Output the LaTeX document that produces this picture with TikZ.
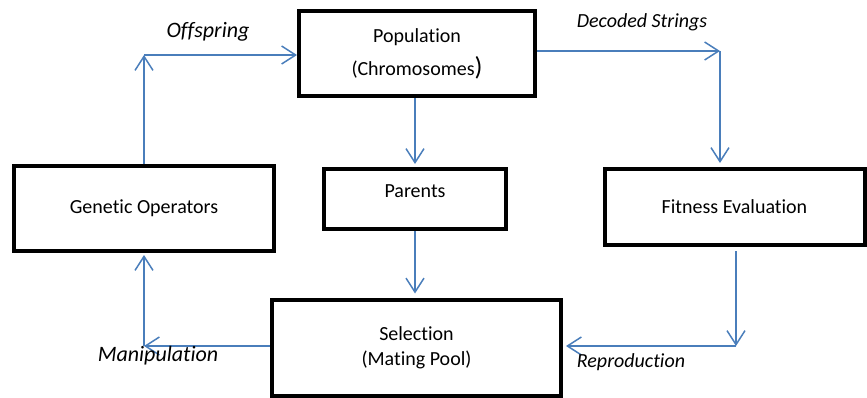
\documentclass[tikz,border=0pt]{standalone}
\usepackage{fontspec}
\setmainfont{Carlito}[Ligatures=NoCommon]
\usepackage{tikz}
\usetikzlibrary{arrows,arrows.meta,calc,positioning}
\definecolor{linkblue}{RGB}{74,126,187}
\tikzset{
        block/.style = {draw, rectangle, line width=2pt,
            inner sep=0pt, align=center,
            font=\fontsize{10}{12.5}\selectfont},
        arrow/.style={draw, linkblue, line width=0.75pt,
            -{Straight Barb[length=7pt,width=9pt,line width=0.75pt]}},
        link/.style={draw, linkblue, line width=0.75pt},
        tag/.style = {font=\itshape\fontsize{11}{13}\selectfont},
        smalltag/.style = {font=\itshape\fontsize{10}{12}\selectfont},
    }

\begin{document}
\begin{tikzpicture}[x=0.5pt,y=-0.5pt]
                \useasboundingbox (0,0) rectangle (867,397);

                % boxes
                \node[block, minimum width=118pt, minimum height=42.5pt] (pop) at (417,53.5)
                      {Population\\[4pt](Chromosomes{\fontsize{13}{13}\selectfont)}};
                \node[block, minimum width=91pt, minimum height=30pt, text depth=8pt] (par) at (415,199) {Parents};
                \node[block, minimum width=130pt, minimum height=42.5pt] (gen) at (144,208.5) {Genetic Operators};
                \node[block, minimum width=130pt, minimum height=38pt] (fit) at (734.5,207) {Fitness Evaluation};
                \node[block, minimum width=144.5pt, minimum height=48pt] (sel) at (416.5,347.5)
                      {Selection\\(Mating Pool)};

                % corners
                \coordinate (offs) at (144,55);
                \coordinate (deco) at (720,51);
                \coordinate (repr) at (736,346);
                \coordinate (mani) at (144,346);

                \draw[arrow] (gen.north -| offs) -- (offs);
                \draw[arrow] (offs) -- (offs -| pop.west);
                \draw[arrow] (deco -| pop.east) -- (deco);
                \draw[arrow, shorten >=2pt] (deco) -- (deco |- fit.north);
                \draw[arrow, shorten >=1.5pt] (par.north |- pop.south) -- (par.north);
                \draw[arrow, shorten >=2pt] (par.south) -- (par.south |- sel.north);
                \draw[arrow, shorten <=2pt] (repr |- fit.south) -- (repr);
                \draw[arrow, shorten >=1.5pt] (repr) -- (repr -| sel.east);
                \draw[arrow] (mani -| sel.west) -- (mani);
                \draw[arrow, shorten >=1pt] (mani) -- (mani |- gen.south);

                % labels
                \node[tag] (offsl) at (208,32) {Offspring};
                \node[smalltag] (decol) at (642,22) {Decoded Strings};
                \node[tag] (manil) at (158,356) {Manipulation};
                \node[smalltag] (reprl) at (631,362) {Reproduction};
\end{tikzpicture}
\end{document}
